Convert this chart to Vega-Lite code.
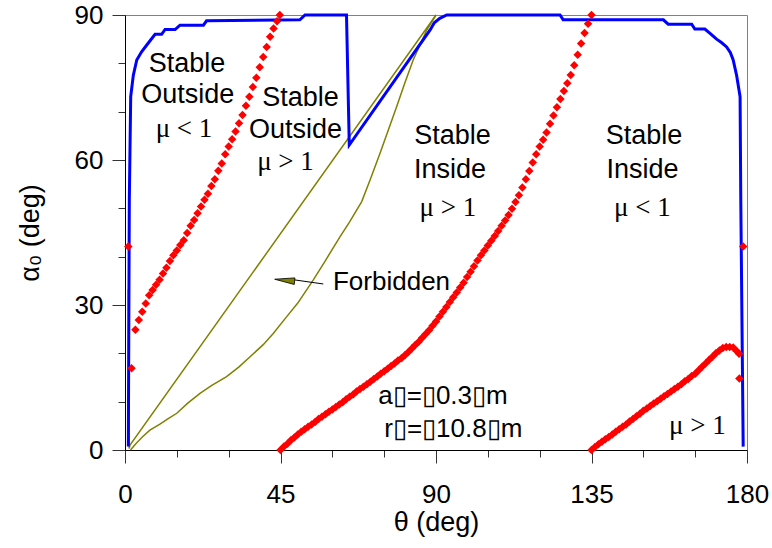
{
  "$schema": "https://vega.github.io/schema/vega-lite/v6.json",
  "width": 622,
  "height": 435,
  "autosize": {"type": "none"},
  "padding": {"left": 125, "top": 15, "right": 25, "bottom": 98},
  "background": "white",
  "config": {
    "view": {"stroke": "#808080", "strokeWidth": 1},
    "axis": {
      "grid": false,
      "domainColor": "black",
      "domainWidth": 1,
      "tickColor": "#333333",
      "tickWidth": 1,
      "labelFont": "Liberation Sans",
      "labelFontSize": 26,
      "labelColor": "black",
      "titleFont": "Liberation Sans",
      "titleFontSize": 27,
      "titleFontWeight": "normal",
      "titleColor": "black"
    }
  },
  "datasets": {
    "lines": [
      {"s": "o1", "x": 0.95, "y": 33.2}, {"s": "o1", "x": 1.2, "y": 0.3}, {"s": "o1", "x": 1.45, "y": 1.0}, {"s": "o1", "x": 90, "y": 90},
      {"s": "o2", "x": 1.6, "y": 0}, {"s": "o2", "x": 3, "y": 1.2}, {"s": "o2", "x": 5, "y": 2.7}, {"s": "o2", "x": 7.2, "y": 4.1},
      {"s": "o2", "x": 10, "y": 5.3}, {"s": "o2", "x": 12.5, "y": 6.5}, {"s": "o2", "x": 15, "y": 7.6}, {"s": "o2", "x": 18, "y": 9.6},
      {"s": "o2", "x": 21.7, "y": 11.7}, {"s": "o2", "x": 25, "y": 13.3}, {"s": "o2", "x": 29.4, "y": 15.2}, {"s": "o2", "x": 33, "y": 17.2},
      {"s": "o2", "x": 36.2, "y": 19.3}, {"s": "o2", "x": 40, "y": 21.8}, {"s": "o2", "x": 42.9, "y": 24.1}, {"s": "o2", "x": 46.8, "y": 27.6},
      {"s": "o2", "x": 50, "y": 30.4}, {"s": "o2", "x": 54.5, "y": 35.2}, {"s": "o2", "x": 58, "y": 39.2}, {"s": "o2", "x": 62.2, "y": 44.1},
      {"s": "o2", "x": 65, "y": 47.2}, {"s": "o2", "x": 68.5, "y": 51.4}, {"s": "o2", "x": 71, "y": 56}, {"s": "o2", "x": 73.8, "y": 61.4},
      {"s": "o2", "x": 76, "y": 65.8}, {"s": "o2", "x": 78.6, "y": 71}, {"s": "o2", "x": 81, "y": 76}, {"s": "o2", "x": 83.4, "y": 80.7},
      {"s": "o2", "x": 85.5, "y": 84}, {"s": "o2", "x": 87.3, "y": 86.9}, {"s": "o2", "x": 90, "y": 90},
      {"s": "b", "x": 0.96, "y": 0.7}, {"s": "b", "x": 1.25, "y": 51.7}, {"s": "b", "x": 1.65, "y": 73.1}, {"s": "b", "x": 2.4, "y": 77.5},
      {"s": "b", "x": 3.4, "y": 80.7}, {"s": "b", "x": 4.8, "y": 82.4}, {"s": "b", "x": 6.3, "y": 83.8}, {"s": "b", "x": 8.7, "y": 86.0},
      {"s": "b", "x": 10.6, "y": 86.0}, {"s": "b", "x": 11.6, "y": 87.0}, {"s": "b", "x": 14.5, "y": 87.0}, {"s": "b", "x": 15.9, "y": 87.9},
      {"s": "b", "x": 22.7, "y": 87.9}, {"s": "b", "x": 23.6, "y": 88.8}, {"s": "b", "x": 50.6, "y": 89.0}, {"s": "b", "x": 52.1, "y": 90},
      {"s": "b", "x": 64.1, "y": 90}, {"s": "b", "x": 64.9, "y": 63.1}, {"s": "b", "x": 88.3, "y": 86.9}, {"s": "b", "x": 89.5, "y": 88.4},
      {"s": "b", "x": 91.1, "y": 89.3}, {"s": "b", "x": 93.1, "y": 90}, {"s": "b", "x": 125.9, "y": 90}, {"s": "b", "x": 126.8, "y": 89.0},
      {"s": "b", "x": 155.8, "y": 89.0}, {"s": "b", "x": 157.2, "y": 88.1}, {"s": "b", "x": 164, "y": 88.1}, {"s": "b", "x": 164.9, "y": 87.1},
      {"s": "b", "x": 167.8, "y": 87.1}, {"s": "b", "x": 169.3, "y": 86.2}, {"s": "b", "x": 171.2, "y": 85.0}, {"s": "b", "x": 172.6, "y": 84.3},
      {"s": "b", "x": 174.1, "y": 83.4}, {"s": "b", "x": 175.2, "y": 82.2}, {"s": "b", "x": 176, "y": 80.7}, {"s": "b", "x": 177, "y": 77.5},
      {"s": "b", "x": 178, "y": 73.1}, {"s": "b", "x": 178.2, "y": 51.7}, {"s": "b", "x": 178.9, "y": 0.7}
    ],
    "red": [
      {"x": 0.96, "y": 42.1}, {"x": 1.9, "y": 16.9}, {"x": 178.9, "y": 42.1}, {"x": 177.8, "y": 14.8},
      {"x": 3, "y": 24.9}, {"x": 4, "y": 26.9}, {"x": 5, "y": 28.6}, {"x": 6, "y": 30.3}, {"x": 7, "y": 32.0}, {"x": 8, "y": 33.1},
      {"x": 9, "y": 34.2}, {"x": 10, "y": 35.2}, {"x": 11, "y": 36.5}, {"x": 12, "y": 37.7}, {"x": 13, "y": 39.1}, {"x": 14, "y": 40.3},
      {"x": 15, "y": 41.3}, {"x": 16, "y": 42.4}, {"x": 17, "y": 43.4}, {"x": 18, "y": 44.9}, {"x": 19, "y": 46.4}, {"x": 20, "y": 47.6},
      {"x": 21, "y": 49.0}, {"x": 22, "y": 50.4}, {"x": 23, "y": 51.8}, {"x": 24, "y": 53.0}, {"x": 25, "y": 54.6}, {"x": 26, "y": 56.0},
      {"x": 27, "y": 57.8}, {"x": 28, "y": 59.3}, {"x": 29, "y": 61.2}, {"x": 30, "y": 62.8}, {"x": 31, "y": 64.3}, {"x": 32, "y": 65.9},
      {"x": 33, "y": 67.6}, {"x": 34, "y": 69.3}, {"x": 35, "y": 71.2}, {"x": 36, "y": 73.1}, {"x": 37, "y": 75.1}, {"x": 38, "y": 77.0},
      {"x": 39, "y": 79.2}, {"x": 40, "y": 81.3}, {"x": 41, "y": 83.4}, {"x": 42, "y": 85.5}, {"x": 43, "y": 87.2}, {"x": 44, "y": 88.7},
      {"x": 44.8, "y": 90},
      {"x": 45, "y": 0.0}, {"x": 46, "y": 0.7}, {"x": 47, "y": 1.3}, {"x": 48, "y": 2.0}, {"x": 49, "y": 2.6}, {"x": 50, "y": 3.2},
      {"x": 51, "y": 3.8}, {"x": 52, "y": 4.3}, {"x": 53, "y": 4.8}, {"x": 54, "y": 5.3}, {"x": 55, "y": 5.8}, {"x": 56, "y": 6.4},
      {"x": 57, "y": 6.9}, {"x": 58, "y": 7.4}, {"x": 59, "y": 7.9}, {"x": 60, "y": 8.4}, {"x": 61, "y": 8.9}, {"x": 62, "y": 9.4},
      {"x": 63, "y": 9.9}, {"x": 64, "y": 10.5}, {"x": 65, "y": 11.0}, {"x": 66, "y": 11.5}, {"x": 67, "y": 12.1}, {"x": 68, "y": 12.6},
      {"x": 69, "y": 13.1}, {"x": 70, "y": 13.6}, {"x": 71, "y": 14.1}, {"x": 72, "y": 14.7}, {"x": 73, "y": 15.2}, {"x": 74, "y": 15.8},
      {"x": 75, "y": 16.3}, {"x": 76, "y": 16.8}, {"x": 77, "y": 17.4}, {"x": 78, "y": 17.9}, {"x": 79, "y": 18.5}, {"x": 80, "y": 19.0},
      {"x": 81, "y": 19.6}, {"x": 82, "y": 20.3}, {"x": 83, "y": 21.0}, {"x": 84, "y": 21.7}, {"x": 85, "y": 22.4}, {"x": 86, "y": 23.2},
      {"x": 87, "y": 24.0}, {"x": 88, "y": 24.8}, {"x": 89, "y": 25.7}, {"x": 90, "y": 26.6}, {"x": 91, "y": 27.6}, {"x": 92, "y": 28.6},
      {"x": 93, "y": 29.6}, {"x": 94, "y": 30.6}, {"x": 95, "y": 31.6}, {"x": 96, "y": 32.6}, {"x": 97, "y": 33.6}, {"x": 98, "y": 34.6},
      {"x": 99, "y": 35.8}, {"x": 100, "y": 36.9}, {"x": 101, "y": 38.0}, {"x": 102, "y": 39.2}, {"x": 103, "y": 40.3}, {"x": 104, "y": 41.3},
      {"x": 105, "y": 42.3}, {"x": 106, "y": 43.3}, {"x": 107, "y": 44.3}, {"x": 108, "y": 45.3}, {"x": 109, "y": 46.4}, {"x": 110, "y": 47.5},
      {"x": 111, "y": 48.6}, {"x": 112, "y": 49.9}, {"x": 113, "y": 51.3}, {"x": 114, "y": 52.7}, {"x": 115, "y": 54.3}, {"x": 116, "y": 56.0},
      {"x": 117, "y": 57.7}, {"x": 118, "y": 59.5}, {"x": 119, "y": 61.2}, {"x": 120, "y": 62.8}, {"x": 121, "y": 64.2}, {"x": 122, "y": 65.7},
      {"x": 123, "y": 67.5}, {"x": 124, "y": 69.2}, {"x": 125, "y": 70.9}, {"x": 126, "y": 72.6}, {"x": 127, "y": 74.3}, {"x": 128, "y": 75.9},
      {"x": 129, "y": 77.6}, {"x": 130, "y": 79.6}, {"x": 131, "y": 81.8}, {"x": 132, "y": 84.1}, {"x": 133, "y": 86.3}, {"x": 134, "y": 88.2},
      {"x": 135, "y": 90.0},
      {"x": 135, "y": 0.0}, {"x": 136, "y": 0.6}, {"x": 137, "y": 1.2}, {"x": 138, "y": 1.7}, {"x": 139, "y": 2.2}, {"x": 140, "y": 2.7},
      {"x": 141, "y": 3.2}, {"x": 142, "y": 3.8}, {"x": 143, "y": 4.3}, {"x": 144, "y": 4.8}, {"x": 145, "y": 5.3}, {"x": 146, "y": 5.9},
      {"x": 147, "y": 6.4}, {"x": 148, "y": 7.0}, {"x": 149, "y": 7.5}, {"x": 150, "y": 8.1}, {"x": 151, "y": 8.6}, {"x": 152, "y": 9.1},
      {"x": 153, "y": 9.6}, {"x": 154, "y": 10.1}, {"x": 155, "y": 10.6}, {"x": 156, "y": 11.1}, {"x": 157, "y": 11.6}, {"x": 158, "y": 12.1},
      {"x": 159, "y": 12.6}, {"x": 160, "y": 13.1}, {"x": 161, "y": 13.6}, {"x": 162, "y": 14.2}, {"x": 163, "y": 14.7}, {"x": 164, "y": 15.3},
      {"x": 165, "y": 15.8}, {"x": 166, "y": 16.5}, {"x": 167, "y": 17.2}, {"x": 168, "y": 17.9}, {"x": 169, "y": 18.6}, {"x": 170, "y": 19.3},
      {"x": 171, "y": 20.0}, {"x": 172, "y": 20.6}, {"x": 173, "y": 21.1}, {"x": 174, "y": 21.3}, {"x": 175, "y": 21.3}, {"x": 176, "y": 21.2},
      {"x": 177, "y": 20.5}, {"x": 177.7, "y": 19.9}
    ],
    "tsans": [
      {"x": 17.94, "y": 78.27, "t": "Stable"},
      {"x": 18.17, "y": 71.73, "t": "Outside"},
      {"x": 50.78, "y": 71.18, "t": "Stable"},
      {"x": 49.33, "y": 64.5, "t": "Outside"},
      {"x": 94.76, "y": 63.31, "t": "Stable"},
      {"x": 94.04, "y": 56.22, "t": "Inside"},
      {"x": 150.17, "y": 63.31, "t": "Stable"},
      {"x": 149.74, "y": 56.22, "t": "Inside"}
    ],
    "tleft": [
      {"x": 60.19, "y": 33.1, "t": "Forbidden"},
      {"x": 73.29, "y": 9.46, "t": "a▯=▯0.3▯m"},
      {"x": 75.03, "y": 2.75, "t": "r▯=▯10.8▯m"}
    ],
    "tserif": [
      {"x": 17.07, "y": 64.7, "t": "μ < 1"},
      {"x": 46.44, "y": 57.93, "t": "μ > 1"},
      {"x": 93.46, "y": 48.42, "t": "μ > 1"},
      {"x": 149.74, "y": 48.42, "t": "μ < 1"},
      {"x": 165.65, "y": 3.31, "t": "μ > 1"}
    ]
  },
  "layer": [
    {
      "data": {"name": "lines"},
      "transform": [{"filter": "datum.s !== 'b'"}],
      "mark": {"type": "line", "color": "#808000", "strokeWidth": 1.5},
      "encoding": {
        "x": {
          "field": "x", "type": "quantitative",
          "scale": {"domain": [0, 180], "nice": false, "zero": false},
          "axis": {
            "title": "θ (deg)",
            "values": [0, 15, 30, 45, 60, 75, 90, 105, 120, 135, 150, 165, 180],
            "labelExpr": "datum.value % 45 === 0 ? datum.label : ''",
            "tickSize": {"condition": {"test": "datum.value % 45 === 0", "value": 13}, "value": 7},
            "labelPadding": 18,
            "labelOverlap": false,
            "labelFlush": false,
            "titlePadding": 2
          }
        },
        "y": {
          "field": "y", "type": "quantitative",
          "scale": {"domain": [0, 90], "nice": false, "zero": false},
          "axis": {
            "title": "α₀ (deg)",
            "values": [0, 10, 20, 30, 40, 50, 60, 70, 80, 90],
            "labelExpr": "datum.value % 30 === 0 ? datum.label : ''",
            "tickSize": {"condition": {"test": "datum.value % 30 === 0", "value": 13}, "value": 7},
            "labelPadding": 9,
            "labelOverlap": false,
            "labelFlush": false,
            "titlePadding": 30
          }
        },
        "detail": {"field": "s", "type": "nominal"}
      }
    },
    {
      "data": {"name": "lines"},
      "transform": [{"filter": "datum.s === 'b'"}],
      "mark": {"type": "line", "color": "#0000FF", "strokeWidth": 3},
      "encoding": {
        "x": {"field": "x", "type": "quantitative"},
        "y": {"field": "y", "type": "quantitative"}
      }
    },
    {
      "data": {"name": "red"},
      "mark": {"type": "point", "shape": "diamond", "filled": true, "color": "#FF0000", "size": 72, "opacity": 1},
      "encoding": {
        "x": {"field": "x", "type": "quantitative"},
        "y": {"field": "y", "type": "quantitative"}
      }
    },
    {
      "data": {"name": "tsans"},
      "mark": {"type": "text", "font": "Liberation Sans", "fontSize": 27, "align": "center", "baseline": "alphabetic", "color": "black"},
      "encoding": {
        "x": {"field": "x", "type": "quantitative"},
        "y": {"field": "y", "type": "quantitative"},
        "text": {"field": "t", "type": "nominal"}
      }
    },
    {
      "data": {"name": "tleft"},
      "mark": {"type": "text", "font": "Liberation Sans", "fontSize": 26, "align": "left", "baseline": "alphabetic", "color": "black"},
      "encoding": {
        "x": {"field": "x", "type": "quantitative"},
        "y": {"field": "y", "type": "quantitative"},
        "text": {"field": "t", "type": "nominal"}
      }
    },
    {
      "data": {"name": "tserif"},
      "mark": {"type": "text", "font": "Liberation Serif", "fontSize": 27, "align": "center", "baseline": "alphabetic", "color": "black"},
      "encoding": {
        "x": {"field": "x", "type": "quantitative"},
        "y": {"field": "y", "type": "quantitative"},
        "text": {"field": "t", "type": "nominal"}
      }
    },
    {
      "data": {"values": [{"x": 57.38, "y": 34.35, "x2": 49.0, "y2": 35.2}]},
      "mark": {"type": "rule", "color": "black", "strokeWidth": 1},
      "encoding": {
        "x": {"field": "x", "type": "quantitative"},
        "y": {"field": "y", "type": "quantitative"},
        "x2": {"field": "x2"},
        "y2": {"field": "y2"}
      }
    },
    {
      "data": {"values": [{"x": 46.2, "y": 35.13}]},
      "mark": {"type": "point", "shape": "M -1 0 L 1 -0.33 L 1 0.33 Z", "filled": true, "fill": "#808000", "stroke": "black", "strokeWidth": 0.8, "size": 400, "angle": 5.6, "opacity": 1},
      "encoding": {
        "x": {"field": "x", "type": "quantitative"},
        "y": {"field": "y", "type": "quantitative"}
      }
    }
  ]
}
